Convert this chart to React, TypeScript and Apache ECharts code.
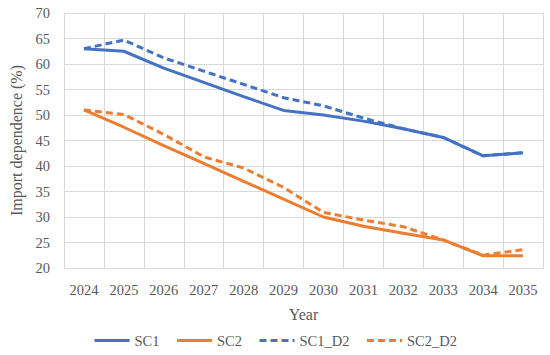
import React, { useEffect, useRef } from "react";
import * as echarts from "echarts";

const years = ["2024","2025","2026","2027","2028","2029","2030","2031","2032","2033","2034","2035"];
const sc1 = [63.0, 62.5, 59.2, 56.4, 53.6, 50.9, 50.0, 48.8, 47.3, 45.6, 42.0, 42.6];
const sc2 = [51.0, 47.6, 44.0, 40.5, 37.0, 33.5, 30.0, 28.2, 26.8, 25.5, 22.4, 22.4];
const sc1d2 = [63.0, 64.7, 61.2, 58.6, 56.0, 53.4, 51.8, 49.4, 47.3, 45.6, 42.0, 42.6];
const sc2d2 = [51.0, 50.1, 46.2, 41.8, 39.6, 35.8, 30.9, 29.4, 28.1, 25.5, 22.5, 23.6];

const BLUE = "#4472C4";
const ORANGE = "#ED7D31";
const FONT = "Liberation Serif";
const GRID = "#d9d9d9";
const TEXT = "#595959";

export default function App() {
  const ref = useRef<HTMLDivElement>(null);
  useEffect(() => {
    if (!ref.current) return;
    const chart = echarts.init(ref.current, undefined, { renderer: "svg" });
    const mk = (name: string, data: number[], color: string, dashed: boolean) => ({
      name,
      type: "line",
      data,
      symbol: "none",
      showSymbol: false,
      lineStyle: { color, width: 3, type: dashed ? [7, 4] : "solid" },
      itemStyle: { color },
    });
    chart.setOption({
      animation: false,
      textStyle: { fontFamily: FONT },
      grid: { left: 54, right: 7, top: 13, bottom: 87, containLabel: false },
      xAxis: {
        type: "category",
        data: years,
        boundaryGap: true,
        name: "Year",
        nameLocation: "middle",
        nameGap: 38,
        nameTextStyle: { color: TEXT, fontSize: 16, fontFamily: FONT },
        axisLine: { show: true, lineStyle: { color: GRID, width: 1 } },
        axisTick: { show: false },
        axisLabel: { color: TEXT, fontSize: 14.5, margin: 14, fontFamily: FONT },
        splitLine: { show: true, lineStyle: { color: GRID, width: 1 } },
      },
      yAxis: [
        {
          type: "value",
          min: 20,
          max: 70,
          interval: 5,
          name: "Import dependence (%)",
          nameLocation: "middle",
          nameGap: 40,
          nameTextStyle: { color: TEXT, fontSize: 16, fontFamily: FONT },
          axisLine: { show: false },
          axisTick: { show: false },
          axisLabel: { color: TEXT, fontSize: 14.5, margin: 14, fontFamily: FONT },
          splitLine: { show: true, lineStyle: { color: GRID, width: 1 } },
        },
        {
          type: "value",
          position: "right",
          min: 20,
          max: 70,
          interval: 5,
          axisLine: { show: true, lineStyle: { color: GRID, width: 1 } },
          axisTick: { show: false },
          axisLabel: { show: false },
          splitLine: { show: false },
        },
      ],
      legend: {
        bottom: 2,
        left: "center",
        itemWidth: 35,
        itemHeight: 14,
        itemGap: 16,
        itemStyle: { opacity: 0 },
        lineStyle: { width: 3 },
        textStyle: { color: TEXT, fontSize: 14.5, fontFamily: FONT },
        data: ["SC1", "SC2", "SC1_D2", "SC2_D2"],
      },
      series: [
        mk("SC1", sc1, BLUE, false),
        mk("SC2", sc2, ORANGE, false),
        mk("SC1_D2", sc1d2, BLUE, true),
        mk("SC2_D2", sc2d2, ORANGE, true),
      ],
    });
    return () => chart.dispose();
  }, []);
  return <div ref={ref} style={{ width: 550, height: 355, position: "absolute", left: 0, top: 0 }} />;
}
